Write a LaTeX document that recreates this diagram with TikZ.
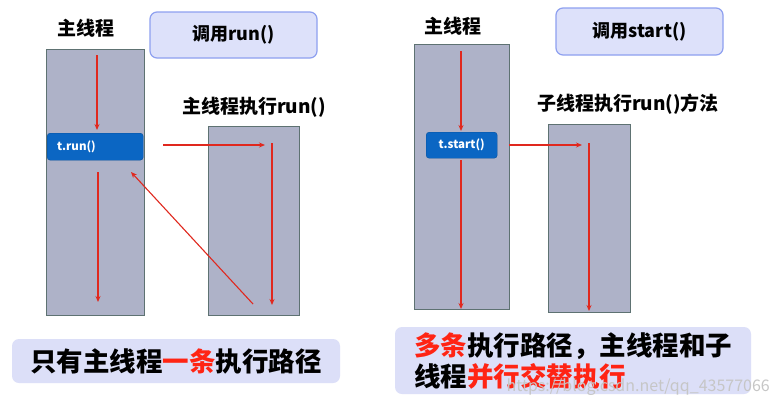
\documentclass[tikz,border=0pt]{standalone}
\usepackage{fontspec}
\setmainfont{Noto Sans CJK SC}
\usetikzlibrary{arrows.meta}
\definecolor{thr}{HTML}{AEB2C8}
\definecolor{thrb}{HTML}{5E7272}
\definecolor{callf}{HTML}{DDE1FA}
\definecolor{callb}{HTML}{8EA0F0}
\definecolor{btnf}{HTML}{0B66C3}
\definecolor{arr}{HTML}{E0281E}
\definecolor{redt}{HTML}{FF2414}
\definecolor{sumf}{HTML}{DCDFF8}
\begin{document}
\begin{tikzpicture}[x=1pt,y=-1pt,
  thread/.style={draw=thrb, line width=1.3pt, fill=thr, inner sep=0pt, anchor=north west},
  callbox/.style={draw=callb, line width=1.2pt, fill=callf, rounded corners=7pt, inner sep=0pt,
    font=\fontsize{18}{20}\selectfont\bfseries},
  btn/.style={fill=btnf, draw=btnf!80!black, line width=0.4pt, rounded corners=3pt, inner sep=0pt,
    text=white, font=\fontsize{11.5}{13}\selectfont\bfseries},
  title/.style={font=\fontsize{19}{21}\selectfont\bfseries, inner sep=0pt},
  sumbox/.style={fill=sumf, rounded corners=7pt, inner sep=0pt, align=left,
    font=\fontsize{26.5}{31}\selectfont\bfseries},
  flow/.style={draw=arr, line width=1.1pt, -{Stealth[length=6pt,width=5pt]}},
]
\useasboundingbox[fill=white] (0,0) rectangle (780,405);

% ---------- left panel ----------
\node[title] (lt) at (86,28) {主线程};
\node[callbox, minimum width=167pt, minimum height=46pt] (lc) at (233.5,35) {调用run()};
\node[thread, minimum width=98pt, minimum height=266pt] (lm) at (46,49) {};
\node[title] (ls) at (254,107) {主线程执行run()};
\node[thread, minimum width=91pt, minimum height=189pt] (lr) at (208,126) {};
\node[btn, minimum width=96pt, minimum height=27pt, anchor=north west] (lb) at (47,133) {};
\node[btn, anchor=west, fill=none, draw=none] (lbt) at (57,146.5) {t.run()};
\node[sumbox, minimum width=328pt, minimum height=44pt] (lsum) at (176,361)
  {只有主线程{\color{redt}一条}执行路径};

\coordinate (l1s) at (97,55);
\coordinate (l1e) at (97,130);
\coordinate (l2s) at (98,172);
\coordinate (l2e) at (98,302);
\coordinate (l3s) at (163,145);
\coordinate (l3e) at (265,145);
\coordinate (l4s) at (272,143);
\coordinate (l4e) at (272,305);
\coordinate (l5s) at (253,304);
\coordinate (l5e) at (131,172);
\draw[flow] (l1s) -- (l1e);
\draw[flow] (l2s) -- (l2e);
\draw[flow] (l3s) -- (l3e);
\draw[flow] (l4s) -- (l4e);
\draw[flow] (l5s) -- (l5e);

% ---------- right panel ----------
\node[title] (rt) at (453,26) {主线程};
\node[callbox, minimum width=167pt, minimum height=47pt] (rc) at (639.5,31.5) {调用start()};
\node[thread, minimum width=95pt, minimum height=265pt] (rm) at (414,44) {};
\node[title] (rs) at (628,104) {子线程执行run()方法};
\node[thread, minimum width=82pt, minimum height=188pt] (rr) at (548,124) {};
\node[btn, minimum width=71pt, minimum height=26pt, anchor=north west] (rb) at (426,132) {t.start()};
\node[sumbox, minimum width=356pt, minimum height=67pt] (rsum) at (573,360.5)
  {{\color{redt}多条}执行路径，主线程和子\\线程{\color{redt}并行交替执行}};

\coordinate (r1s) at (461,51);
\coordinate (r1e) at (461,131);
\coordinate (r2s) at (461,160);
\coordinate (r2e) at (461,309);
\coordinate (r3s) at (509,145);
\coordinate (r3e) at (582,145);
\coordinate (r4s) at (589,143);
\coordinate (r4e) at (589,311);
\draw[flow] (r1s) -- (r1e);
\draw[flow] (r2s) -- (r2e);
\draw[flow] (r3s) -- (r3e);
\draw[flow] (r4s) -- (r4e);

% watermark
\node[text=gray!45, font=\fontsize{16}{18}\selectfont, inner sep=0pt, anchor=east] (wm) at (770,387)
  {https://blog.csdn.net/qq\_43577066};
\end{tikzpicture}
\end{document}
